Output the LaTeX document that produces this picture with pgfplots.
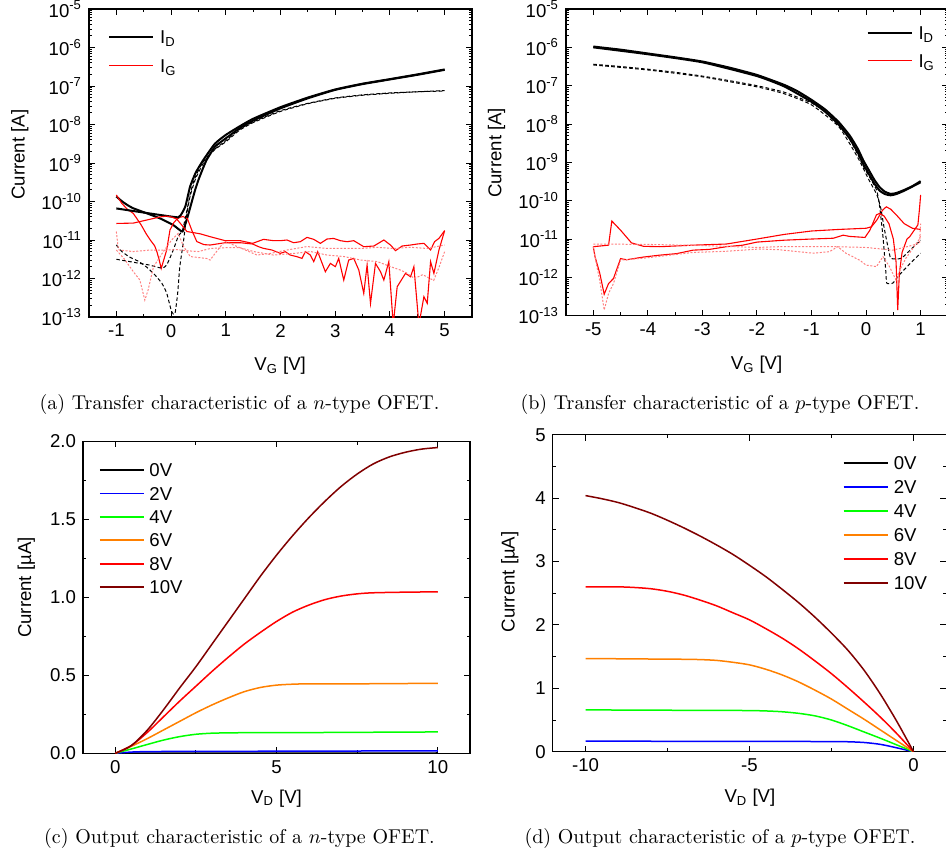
\documentclass[border=0pt]{standalone}
\usepackage{fontspec}
\newfontfamily\arial{Liberation Sans}
\usepackage{pgfplots}
\pgfplotsset{compat=1.18}

\newcommand\plotfont{\arial\fontsize{9.3}{11}\selectfont}
\definecolor{wine}{RGB}{128,0,0}
\definecolor{ogreen}{RGB}{0,255,0}
\definecolor{oorange}{RGB}{255,128,0}
\definecolor{pinkred}{RGB}{255,128,128}

\pgfplotsset{
  ofet/.style={
    scale only axis, anchor=south west,
    font=\plotfont,
    axis line style={line width=0.75pt, black},
    tick style={line width=0.5pt, black},
    major tick length=3pt, minor tick length=1.7pt,
    tick label style={font=\plotfont},
    label style={font=\plotfont},
    /pgf/number format/assume math mode=true,
    clip mode=individual,
    legend cell align=left,
    legend image code/.code={\draw[##1] (0pt,0pt) -- (22pt,0pt);},
    legend style={draw=none, fill=none, inner sep=0pt, outer sep=0pt,
      anchor=north west, column sep=3pt, font=\plotfont,
      nodes={inner sep=0pt, text height=6.66pt, text depth=0pt},
      cells={anchor=west}},
  },
  logcurrent/.style={
    ytick={1e-13,1e-12,1e-11,1e-10,1e-9,1e-8,1e-7,1e-6,1e-5},
    yticklabels={10\textsuperscript{-13},10\textsuperscript{-12},10\textsuperscript{-11},
      10\textsuperscript{-10},10\textsuperscript{-9},10\textsuperscript{-8},
      10\textsuperscript{-7},10\textsuperscript{-6},10\textsuperscript{-5}},
    minor ytick={2e-13,3e-13,4e-13,5e-13,6e-13,7e-13,8e-13,9e-13,
      2e-12,3e-12,4e-12,5e-12,6e-12,7e-12,8e-12,9e-12,
      2e-11,3e-11,4e-11,5e-11,6e-11,7e-11,8e-11,9e-11,
      2e-10,3e-10,4e-10,5e-10,6e-10,7e-10,8e-10,9e-10,
      2e-9,3e-9,4e-9,5e-9,6e-9,7e-9,8e-9,9e-9,
      2e-8,3e-8,4e-8,5e-8,6e-8,7e-8,8e-8,9e-8,
      2e-7,3e-7,4e-7,5e-7,6e-7,7e-7,8e-7,9e-7,
      2e-6,3e-6,4e-6,5e-6,6e-6,7e-6,8e-6,9e-6},
    minor x tick num=1,
    ylabel={Current [A]},
    xlabel={V\textsubscript{G} [V]},
  },
  idsolid/.style={black, line width=1pt, smooth, tension=0.3},
  iddash/.style={black, line width=0.5pt, dash pattern=on 1.8pt off 1.2pt, smooth, tension=0.3},
  igsolid/.style={red, line width=0.55pt},
  igdot/.style={pinkred, line width=0.5pt, dash pattern=on 1pt off 0.8pt},
  outc/.style={line width=0.75pt, smooth},
}

\begin{document}
\begin{tikzpicture}

% ---------------- (a) n-type transfer ----------------
\begin{axis}[ymode=log, ymin=1e-13, ymax=1e-5, ofet, logcurrent,
  at={(44.5pt,270.5pt)}, width=191.5pt, height=154pt,
  xmin=-1.5, xmax=5.5, xtick={-1,0,...,5},
  xlabel style={at={(axis description cs:0.499,-0.174)}, anchor=base},
  ylabel style={at={(axis description cs:-0.168,0.527)}, anchor=base},
  legend style={at={(axis description cs:0.05,0.93)}, row sep=7.5pt},
]
% drain current, forward and reverse sweep
\addplot[idsolid] coordinates {
 (-1,1.35e-10) (-0.9,1.02e-10) (-0.8,8.13e-11) (-0.7,6.76e-11) (-0.57,5.75e-11)
 (-0.4,4.68e-11) (-0.2,3.63e-11) (0.04,2.45e-11) (0.12,2.0e-11) (0.21,1.66e-11)
 (0.27,2.82e-11) (0.32,4.9e-11) (0.38,1.0e-10) (0.44,2.0e-10) (0.5,3.63e-10)
 (0.58,7.08e-10) (0.65,1.2e-9) (0.8,2.63e-9) (1.0,4.37e-9) (1.25,7.94e-9)
 (1.5,1.26e-8) (2,2.63e-8) (2.5,4.79e-8) (3,7.94e-8) (3.5,1.12e-7) (4,1.48e-7)
 (4.5,1.95e-7) (5,2.63e-7)};
\addlegendentry{I\textsubscript{D}}
% gate current, first sweep
\addplot[igsolid] coordinates {
 (-1,1.48e-10) (-0.9,8.91e-11) (-0.8,6.31e-11) (-0.69,4.9e-11) (-0.55,2.51e-11)
 (-0.45,1.41e-11) (-0.38,1.0e-11) (-0.3,7.08e-12) (-0.26,5.01e-12) (-0.22,3.16e-12)
 (-0.18,1.82e-12) (-0.13,3.16e-12) (-0.08,5.5e-12) (-0.02,1.82e-11) (0.05,2.82e-11)
 (0.1,3.39e-11) (0.16,3.89e-11) (0.22,4.07e-11) (0.3,3.55e-11) (0.38,1.78e-11)
 (0.47,9.12e-12) (0.6,7.59e-12) (0.714,7.41e-12) (0.989,8.51e-12) (1.264,8.51e-12)
 (1.49,7.87e-12) (1.6,6.7e-12) (1.69,6.07e-12) (1.843,5.5e-12) (1.996,4.5e-12)
 (2.088,4.97e-12) (2.179,4.07e-12) (2.301,3.69e-12) (2.393,3.33e-12) (2.454,4.97e-12)
 (2.546,4.07e-12) (2.607,2.74e-12) (2.68,4.97e-12) (2.82,1.5e-12) (2.912,2.47e-12)
 (3.003,2.03e-12) (3.064,3.33e-12) (3.156,9.12e-13) (3.247,3.02e-12) (3.339,3.33e-12)
 (3.431,1.66e-12) (3.522,4.11e-13) (3.583,2.24e-12) (3.645,2.26e-13) (3.736,2.47e-12)
 (3.828,1.5e-12) (3.889,9.12e-13) (3.98,2.74e-12) (4.06,6.31e-14) (4.133,6.12e-13)
 (4.285,1.36e-12) (4.377,1.11e-12) (4.438,2.03e-12) (4.53,6.31e-14) (4.621,3.37e-13)
 (4.682,2.26e-13) (4.743,2.74e-12) (4.804,1.36e-12) (4.896,5.5e-12) (5.0,1.75e-11)};
\addlegendentry{I\textsubscript{G}}
% drain current, second branch
\addplot[idsolid, forget plot] coordinates {
 (-1,6.61e-11) (-0.63,5.5e-11) (-0.2,4.47e-11) (0.13,3.89e-11) (0.2,5.01e-11)
 (0.26,7.41e-11) (0.3,1.26e-10) (0.35,2.51e-10) (0.45,5.62e-10) (0.59,1.2e-9)
 (0.8,3.16e-9) (1.0,5.37e-9) (1.25,8.91e-9) (1.5,1.41e-8) (2,2.82e-8) (2.5,5.01e-8)
 (3,8.13e-8) (3.5,1.15e-7) (4,1.51e-7) (4.5,2.0e-7) (5,2.69e-7)};
% drain current at lower drain bias
\addplot[iddash, forget plot] coordinates {
 (-1,7.41e-12) (-0.9,5.01e-12) (-0.75,3.55e-12) (-0.6,2.82e-12) (-0.45,2.0e-12)
 (-0.3,1.26e-12) (-0.17,7.59e-13) (-0.08,4.17e-13) (0.01,1.38e-13) (0.07,1.2e-13)
 (0.12,4.07e-13) (0.16,2.04e-12) (0.23,1.0e-11) (0.29,4.9e-11) (0.35,1.41e-10)
 (0.45,3.98e-10) (0.6,1.05e-9) (0.8,2.24e-9) (1.0,3.55e-9) (1.25,7.08e-9)
 (1.5,1.12e-8) (2,2.19e-8) (2.5,3.47e-8) (3,4.79e-8) (3.5,5.75e-8) (4,6.46e-8)
 (4.5,7.08e-8) (5,7.41e-8)};
\addplot[iddash, forget plot] coordinates {
 (-1,3.16e-12) (-0.8,2.82e-12) (-0.6,2.51e-12) (-0.4,2.24e-12) (-0.17,1.86e-12)
 (-0.08,2.24e-12) (0.04,5.5e-12) (0.13,1.23e-11) (0.21,1.82e-11) (0.28,5.01e-11)
 (0.35,1.58e-10) (0.42,3.55e-10) (0.55,8.91e-10) (0.75,2.0e-9) (1,3.8e-9)
 (1.25,7.41e-9) (1.5,1.17e-8) (2,2.29e-8) (2.5,3.55e-8) (3,4.9e-8) (3.5,5.89e-8)
 (4,6.61e-8) (4.5,7.08e-8) (5,7.59e-8)};
% gate current, second sweep
\addplot[igsolid, forget plot] coordinates {
 (-1,2.69e-11) (-0.69,2.75e-11) (-0.38,3.47e-11) (-0.2,3.98e-11) (-0.08,4.17e-11)
 (0.0,3.98e-11) (0.1,3.55e-11) (0.2,2.4e-11) (0.29,1.66e-11) (0.53,1.45e-11)
 (0.714,1.22e-11) (0.989,9.6e-12) (1.264,9.6e-12) (1.49,8.18e-12) (1.69,1.04e-11)
 (1.874,9.6e-12) (1.996,9.6e-12) (2.118,1.0e-11) (2.24,8.51e-12) (2.362,9.04e-12)
 (2.485,1.17e-11) (2.607,1.04e-11) (2.729,8.18e-12) (2.851,1.06e-11) (2.973,1.1e-11)
 (3.095,9.6e-12) (3.217,9.04e-12) (3.339,9.6e-12) (3.522,6.7e-12) (3.706,6.98e-12)
 (3.889,1.0e-11) (4.011,7.41e-12) (4.102,5.28e-12) (4.224,6.98e-12) (4.377,7.41e-12)
 (4.499,7.87e-12) (4.621,8.18e-12) (4.743,5.5e-12) (4.816,9.04e-12) (4.896,1.1e-11)
 (5.0,1.75e-11)};
% gate current at lower drain bias
\addplot[igdot, forget plot] coordinates {
 (-1,1.66e-11) (-0.97,6.76e-12) (-0.95,5.5e-12) (-0.69,5.01e-12) (-0.38,5.5e-12)
 (-0.08,5.5e-12) (0.1,5.62e-12) (0.3,5.25e-12) (0.5,5.01e-12) (0.72,6.03e-12)
 (1.0,6.31e-12) (1.26,6.31e-12) (1.51,5.01e-12) (1.87,4.07e-12) (2.24,4.47e-12)
 (2.55,5.01e-12) (2.85,4.07e-12) (3.16,3.72e-12) (3.46,3.02e-12) (3.77,2.75e-12)
 (4.01,2.04e-12) (4.19,1.66e-12) (4.3,1.41e-12) (4.45,1.0e-12) (4.6,1.26e-12)
 (4.8,8.91e-13) (4.9,2.0e-12) (5.0,5.01e-12)};
\addplot[igdot, forget plot] coordinates {
 (-1,5.5e-12) (-0.85,3.16e-12) (-0.69,1.51e-12) (-0.57,9.12e-13) (-0.48,2.75e-13)
 (-0.42,5.01e-13) (-0.32,2.04e-12) (-0.14,5.01e-12) (0.01,1.0e-11) (0.13,1.48e-11)
 (0.23,6.76e-12) (0.35,3.72e-12) (0.65,3.31e-12) (0.714,3.02e-12) (0.9,6.76e-12)
 (0.99,9.12e-12) (1.26,6.31e-12) (1.57,4.07e-12) (1.81,4.47e-12) (2.12,5.5e-12)
 (2.485,6.76e-12) (2.85,6.03e-12) (3.16,6.03e-12) (3.46,6.03e-12) (3.77,6.46e-12)
 (4.07,6.03e-12) (4.38,6.46e-12) (4.68,6.03e-12) (5.0,7.41e-12)};
\end{axis}

% ---------------- (b) p-type transfer ----------------
\begin{axis}[ymode=log, ymin=1e-13, ymax=1e-5, ofet, logcurrent,
  at={(283pt,271.15pt)}, width=190.95pt, height=153.35pt,
  xmin=-5.5, xmax=1.5, xtick={-5,-4,...,1},
  xlabel style={at={(axis description cs:0.499,-0.177)}, anchor=base},
  ylabel style={at={(axis description cs:-0.169,0.531)}, anchor=base},
  legend style={at={(axis description cs:0.787,0.944)}, row sep=7.34pt},
]
\addplot[idsolid] coordinates {
 (-5,1.05e-6) (-4.5,8.71e-7) (-4,6.92e-7) (-3.5,5.5e-7) (-3,4.27e-7) (-2.5,2.95e-7)
 (-2,1.91e-7) (-1.5,1.05e-7) (-1.25,7.08e-8) (-1,4.27e-8) (-0.75,2.4e-8)
 (-0.5,1.12e-8) (-0.3,5.01e-9) (-0.15,2.24e-9) (-0.05,1.12e-9) (0.05,6.31e-10)
 (0.15,3.55e-10) (0.25,2.24e-10) (0.35,1.7e-10) (0.45,1.51e-10) (0.55,1.58e-10)
 (0.7,1.91e-10) (0.85,2.4e-10) (1.0,3.24e-10)};
\addlegendentry{I\textsubscript{D}}
\addplot[igsolid] coordinates {
 (-5,6.31e-12) (-4.72,6.92e-12) (-4.66,2.95e-11) (-4.5,1.7e-11) (-4.3,7.94e-12)
 (-4.08,6.46e-12) (-3.78,6.31e-12) (-3.17,6.92e-12) (-2.56,7.41e-12) (-2,1.0e-11)
 (-1.5,1.32e-11) (-1,1.62e-11) (-0.5,1.78e-11) (0,1.91e-11) (0.1,2.09e-11)
 (0.2,3.16e-11) (0.3,5.62e-11) (0.37,6.92e-11) (0.45,6.03e-11) (0.56,4.17e-11)
 (0.7,2.51e-11) (0.85,1.91e-11) (1.0,1.78e-11)};
\addlegendentry{I\textsubscript{G}}
\addplot[idsolid, forget plot] coordinates {
 (-5,1.0e-6) (-4,6.61e-7) (-3,4.07e-7) (-2,1.78e-7) (-1.5,9.55e-8) (-1,3.8e-8)
 (-0.75,2.09e-8) (-0.5,9.55e-9) (-0.3,4.17e-9) (-0.15,1.78e-9) (-0.05,8.91e-10)
 (0.05,5.01e-10) (0.15,2.82e-10) (0.25,1.82e-10) (0.35,1.48e-10) (0.45,1.38e-10)
 (0.55,1.48e-10) (0.7,1.82e-10) (0.85,2.34e-10) (1.0,3.02e-10)};
\addplot[iddash, forget plot] coordinates {
 (-5,3.63e-7) (-4.5,3.16e-7) (-4,2.69e-7) (-3.5,2.24e-7) (-3,1.78e-7) (-2.5,1.35e-7)
 (-2,1.0e-7) (-1.5,6.76e-8) (-1,3.55e-8) (-0.75,2.09e-8) (-0.5,1.0e-8)
 (-0.3,3.98e-9) (-0.15,1.58e-9) (-0.05,7.94e-10) (0.05,4.47e-10) (0.15,2.51e-10)
 (0.2,1.78e-10) (0.25,6.92e-11) (0.31,1.15e-11) (0.36,1.55e-12) (0.38,7.08e-13)
 (0.49,7.08e-13) (0.6,1.12e-12) (0.8,2.24e-12) (1.0,4.27e-12)};
\addplot[iddash, forget plot] coordinates {
 (-5,3.47e-7) (-4,2.57e-7) (-3,1.7e-7) (-2,9.33e-8) (-1.5,6.17e-8) (-1,3.16e-8)
 (-0.5,8.51e-9) (-0.15,1.32e-9) (0.05,3.55e-10) (0.2,1.41e-10) (0.27,6.31e-11)
 (0.33,2.0e-11) (0.4,6.31e-12) (0.45,3.16e-12) (0.55,3.02e-12) (0.65,3.16e-12)
 (0.8,5.01e-12) (1.0,9.33e-12)};
\addplot[igsolid, forget plot] coordinates {
 (-5,6.31e-12) (-4.97,3.55e-12) (-4.88,1.26e-12) (-4.8,3.63e-13) (-4.72,6.92e-13)
 (-4.63,9.33e-13) (-4.5,3.09e-12) (-4.39,2.88e-12) (-4.08,3.39e-12) (-3.78,3.8e-12)
 (-3.47,4.17e-12) (-3.17,5.13e-12) (-2.87,5.37e-12) (-2.56,6.31e-12) (-2.26,6.92e-12)
 (-2,8.32e-12) (-1.5,9.33e-12) (-1,1.0e-11) (-0.6,1.05e-11) (-0.42,1.26e-11)
 (-0.3,1.17e-11) (-0.1,1.12e-11) (-0.02,1.1e-11) (0.07,1.7e-11) (0.19,4.27e-11)
 (0.25,4.68e-11) (0.33,3.98e-11) (0.42,2.51e-11) (0.5,1.0e-11) (0.55,2.51e-12)
 (0.58,1.41e-13) (0.61,1.26e-12) (0.66,4.47e-12) (0.75,1.0e-11) (0.8,1.15e-11)
 (0.95,2.34e-11) (0.98,6.31e-11) (1.0,1.41e-10)};
\addplot[igdot, forget plot] coordinates {
 (-5,7.41e-12) (-4,7.24e-12) (-3,6.76e-12) (-2,6.03e-12) (-1.59,6.31e-12)
 (-1,6.31e-12) (-0.55,6.31e-12) (0,6.03e-12) (0.49,5.13e-12) (0.75,6.31e-12)
 (0.98,7.76e-12) (1.0,2.51e-11)};
\addplot[igdot, forget plot] coordinates {
 (-5,6.31e-12) (-4.95,2.51e-12) (-4.88,7.94e-13) (-4.8,1.41e-13) (-4.72,3.8e-13)
 (-4.63,6.92e-13) (-4.5,2.82e-12) (-4.08,3.16e-12) (-3.17,4.47e-12) (-2.56,4.79e-12)
 (-1.95,5.5e-12) (-1.59,5.25e-12) (-0.97,4.27e-12) (-0.67,4.68e-12) (-0.52,6.31e-12)
 (-0.37,4.27e-12) (-0.12,2.82e-12) (0.0,2.09e-12) (0.19,1.91e-12) (0.31,3.47e-12)
 (0.42,2.0e-12) (0.55,8.51e-13) (0.62,1.58e-12) (0.73,3.16e-12) (0.98,1.0e-11)
 (1.0,1.26e-11)};
\end{axis}

% ---------------- (c) n-type output ----------------
\begin{axis}[ofet,
  at={(41.5pt,52.35pt)}, width=193.5pt, height=156pt,
  xmin=-1, xmax=11, ymin=0, ymax=2,
  xtick={0,5,10}, minor x tick num=1,
  ytick={0,0.5,1,1.5,2}, minor y tick num=1,
  yticklabel style={/pgf/number format/.cd, fixed, fixed zerofill, precision=1},
  xlabel={V\textsubscript{D} [V]}, ylabel={Current [µA]},
  xlabel style={at={(axis description cs:0.5,-0.160)}, anchor=base},
  ylabel style={at={(axis description cs:-0.134,0.531)}, anchor=base},
  legend image code/.code={\draw[#1, line width=0.9pt] (0pt,0pt) -- (22pt,0pt);},
  legend style={at={(axis description cs:0.041,0.929)}, row sep=5.04pt, column sep=2.4pt},
]
\addplot[outc, black] coordinates {(0,0) (2,0.001) (10,0.002)};
\addlegendentry{0V}
\addplot[outc, blue] coordinates {(0,0) (0.5,0.008) (1,0.011) (2,0.012) (4,0.013) (6,0.014) (8,0.015) (10,0.016)};
\addlegendentry{2V}
\addplot[outc, ogreen] coordinates {(0,0) (0.5,0.028) (1,0.057) (1.5,0.085) (2,0.107) (2.5,0.122) (3,0.129) (3.5,0.131) (4,0.132) (6,0.133) (8,0.135) (10,0.137)};
\addlegendentry{4V}
\addplot[outc, oorange] coordinates {(0,0) (0.5,0.045) (1,0.095) (1.5,0.15) (2,0.205) (2.5,0.26) (3,0.31) (3.5,0.355) (4,0.395) (4.5,0.422) (5,0.437) (5.5,0.443) (6,0.445) (8,0.446) (10,0.449)};
\addlegendentry{6V}
\addplot[outc, red] coordinates {(0,0) (0.5,0.05) (1,0.135) (1.5,0.235) (2,0.335) (2.5,0.43) (3,0.525) (3.5,0.615) (4,0.70) (4.5,0.775) (5,0.845) (5.5,0.905) (6,0.95) (6.5,0.985) (7,1.008) (7.5,1.022) (8,1.029) (9,1.033) (10,1.035)};
\addlegendentry{8V}
\addplot[outc, wine] coordinates {(0,0) (0.5,0.05) (1,0.15) (1.5,0.28) (2,0.42) (2.5,0.555) (3,0.70) (3.5,0.845) (4,0.99) (4.5,1.135) (5,1.27) (5.5,1.395) (6,1.51) (6.5,1.615) (7,1.71) (7.5,1.79) (8,1.855) (8.5,1.90) (9,1.93) (9.5,1.95) (10,1.96)};
\addlegendentry{10V}
\end{axis}

% ---------------- (d) p-type output ----------------
\begin{axis}[ofet,
  at={(276.35pt,53.15pt)}, width=196.8pt, height=158.5pt,
  xmin=-11, xmax=1, ymin=0, ymax=5,
  xtick={-10,-5,0}, minor x tick num=1,
  ytick={0,1,...,5}, minor y tick num=1,
  xlabel={V\textsubscript{D} [V]}, ylabel={Current [µA]},
  xlabel style={at={(axis description cs:0.501,-0.161)}, anchor=base},
  ylabel style={at={(axis description cs:-0.097,0.536)}, anchor=base},
  legend image code/.code={\draw[#1, line width=0.9pt] (0pt,0pt) -- (22pt,0pt);},
  legend style={at={(axis description cs:0.737,0.931)}, row sep=5.31pt, column sep=2.65pt},
]
\addplot[outc, black] coordinates {(-10,0) (0,0)};
\addlegendentry{0V}
\addplot[outc, blue] coordinates {(-10,0.168) (-8,0.165) (-6,0.163) (-4,0.162) (-2.5,0.16) (-2,0.157) (-1.5,0.145) (-1,0.115) (-0.5,0.06) (0,0)};
\addlegendentry{2V}
\addplot[outc, ogreen] coordinates {(-10,0.66) (-8,0.655) (-6,0.652) (-5,0.649) (-4.5,0.643) (-4,0.63) (-3.5,0.605) (-3,0.565) (-2.5,0.5) (-2,0.41) (-1.5,0.31) (-1,0.21) (-0.5,0.105) (0,0)};
\addlegendentry{4V}
\addplot[outc, oorange] coordinates {(-10,1.47) (-8,1.462) (-7,1.458) (-6.5,1.453) (-6,1.44) (-5.5,1.41) (-5,1.37) (-4.5,1.30) (-4,1.21) (-3.5,1.10) (-3,0.97) (-2.5,0.83) (-2,0.67) (-1.5,0.51) (-1,0.34) (-0.5,0.17) (0,0)};
\addlegendentry{6V}
\addplot[outc, red] coordinates {(-10,2.60) (-9,2.60) (-8.5,2.59) (-8,2.57) (-7.5,2.53) (-7,2.47) (-6.5,2.39) (-6,2.30) (-5.5,2.19) (-5,2.08) (-4.5,1.94) (-4,1.79) (-3.5,1.62) (-3,1.43) (-2.5,1.23) (-2,1.01) (-1.5,0.78) (-1,0.54) (-0.5,0.28) (0,0)};
\addlegendentry{8V}
\addplot[outc, wine] coordinates {(-10,4.04) (-9.5,3.99) (-9,3.93) (-8.5,3.85) (-8,3.76) (-7.5,3.65) (-7,3.53) (-6.5,3.40) (-6,3.26) (-5.5,3.11) (-5,2.94) (-4.5,2.76) (-4,2.56) (-3.5,2.35) (-3,2.12) (-2.5,1.87) (-2,1.60) (-1.5,1.28) (-1,0.90) (-0.5,0.47) (0,0)};
\addlegendentry{10V}
\end{axis}

% sub-captions
\node[anchor=base, font=\fontsize{10}{12}\selectfont] at (119.75pt,224.5pt) {(a) Transfer characteristic of a $n$-type OFET.};
\node[anchor=base, font=\fontsize{10}{12}\selectfont] at (360pt,224.5pt) {(b) Transfer characteristic of a $p$-type OFET.};
\node[anchor=base, font=\fontsize{10}{12}\selectfont] at (119.75pt,7.5pt) {(c) Output characteristic of a $n$-type OFET.};
\node[anchor=base, font=\fontsize{10}{12}\selectfont] at (360pt,7.5pt) {(d) Output characteristic of a $p$-type OFET.};

\pgfresetboundingbox
\path[use as bounding box] (0pt,0pt) rectangle (473pt,429pt);
\end{tikzpicture}
\end{document}
